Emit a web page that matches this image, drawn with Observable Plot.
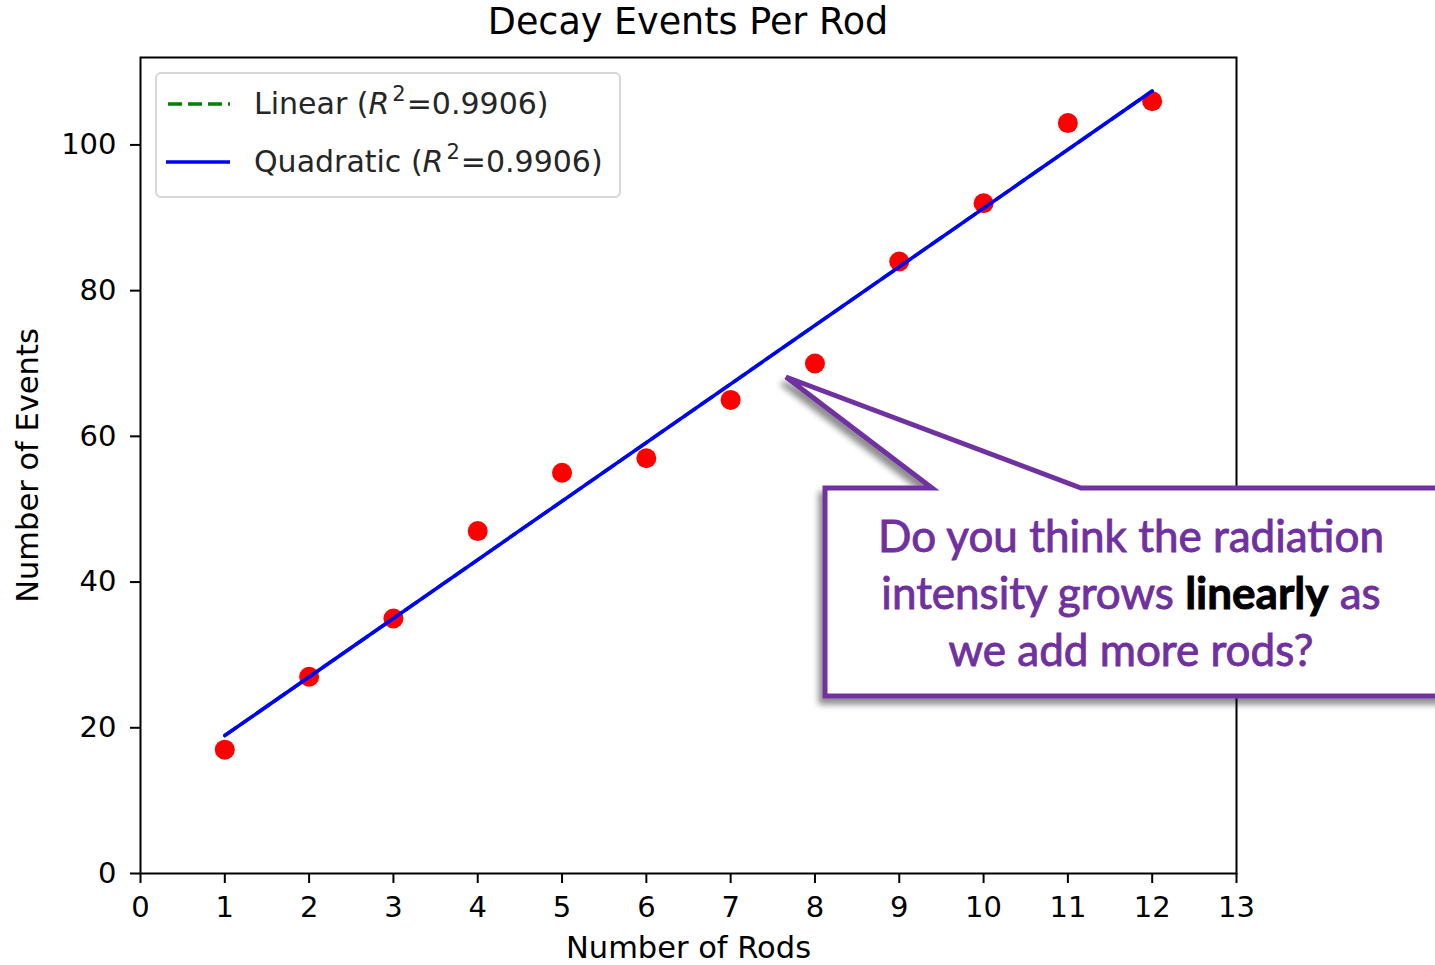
<!DOCTYPE html>
<html>
<head>
<meta charset="utf-8">
<script src="https://cdn.jsdelivr.net/npm/d3@7"></script>
<script src="https://cdn.jsdelivr.net/npm/@observablehq/plot@0.6"></script>
<style>
  html, body { margin: 0; padding: 0; background: #fff; }
  #wrap { position: relative; width: 1435px; height: 965px; overflow: hidden; font-family: "DejaVu Sans", sans-serif; }
  #title { position: absolute; left: 140px; width: 1096px; top: -1px; text-align: center; font-size: 36.5px; line-height: 46px; color: #000; }
  #legend { position: absolute; left: 155px; top: 72px; width: 466px; height: 126px; border: 2px solid #d8d8d8; border-radius: 6px; background: rgba(255,255,255,0.85); box-sizing: border-box; }
  .lrow { position: absolute; left: 0; height: 40px; font-size: 30px; color: #262626; white-space: nowrap; }
  .lrow svg { position: absolute; left: 9px; top: 0; }
  .lrow span { position: absolute; left: 97px; top: 0px; }
  .lrow i { margin-right: 3px; }
  .lrow sup { font-size: 21px; vertical-align: 0; position: relative; top: -13px; margin-right: 1px; }
  #callout { position: absolute; left: 0; top: 0; }
</style>
</head>
<body>
<div id="wrap">
  <div id="chart"></div>
  <div id="title">Decay Events Per Rod</div>
  <div id="legend">
    <div class="lrow" style="top: 12px;">
      <svg width="70" height="40"><line x1="2" x2="64" y1="18" y2="18" stroke="green" stroke-width="3.5" stroke-dasharray="14,6"></line></svg>
      <span>Linear (<i>R</i><sup>2</sup>=0.9906)</span>
    </div>
    <div class="lrow" style="top: 70px;">
      <svg width="70" height="40"><line x1="0" x2="64" y1="18" y2="18" stroke="blue" stroke-width="3.5"></line></svg>
      <span>Quadratic (<i>R</i><sup>2</sup>=0.9906)</span>
    </div>
  </div>
  <svg id="callout" width="1435" height="965"></svg>
</div>
<script>
// Data
const rods = [1, 2, 3, 4, 5, 6, 7, 8, 9, 10, 11, 12];
const events = [17, 27, 35, 47, 55, 57, 65, 70, 84, 92, 103, 106];
const xTicks = [0, 1, 2, 3, 4, 5, 6, 7, 8, 9, 10, 11, 12, 13];
const yTicks = [0, 20, 40, 60, 80, 100];

const data = rods.map((r, i) => ({rods: r, events: events[i]}));

const plot = Plot.plot({
  width: 1435,
  height: 965,
  marginLeft: 140,
  marginRight: 199,
  marginTop: 57,
  marginBottom: 92,
  style: {fontSize: "29px", fontFamily: "DejaVu Sans, sans-serif", color: "#000", background: "transparent"},
  x: {domain: [0, 13]},
  y: {domain: [0, 112]},
  marks: [
    Plot.axisX({ticks: xTicks, tickSize: 10, tickPadding: 13, strokeWidth: 2, label: null}),
    Plot.axisX({ticks: [], tickSize: 0, label: "Number of Rods", labelAnchor: "center", labelArrow: "none", labelOffset: 84, fontSize: 30.5}),
    Plot.axisY({ticks: yTicks, tickSize: 10, tickPadding: 14, strokeWidth: 2, label: null}),
    Plot.axisY({ticks: [], tickSize: 0, label: "Number of Events", labelAnchor: "center", labelArrow: "none", labelOffset: 124, fontSize: 30.5}),
    Plot.dot(data, {x: "rods", y: "events", r: 10, fill: "red", stroke: "none"}),
    Plot.linearRegressionY(data, {x: "rods", y: "events", ci: 0, stroke: "green", strokeWidth: 3.5, strokeDasharray: "14,6"}),
    Plot.linearRegressionY(data, {x: "rods", y: "events", ci: 0, stroke: "blue", strokeWidth: 3.5}),
    Plot.frame({stroke: "#000", strokeWidth: 2})
  ]
});
document.getElementById("chart").appendChild(plot);

// Callout annotation
const co = document.getElementById("callout");
co.innerHTML = `
  <defs>
    <filter id="sh" x="-10%" y="-10%" width="120%" height="130%">
      <feGaussianBlur in="SourceAlpha" stdDeviation="3"/>
      <feOffset dx="-4" dy="6" result="b"/>
      <feComponentTransfer><feFuncA type="linear" slope="0.45"/></feComponentTransfer>
      <feMerge><feMergeNode/><feMergeNode in="SourceGraphic"/></feMerge>
    </filter>
  </defs>
  <path d="M825,488 L932,488 L786,377 L1081,488 L1450,488 L1450,696 L825,696 Z"
        fill="#fff" stroke="#7030A0" stroke-width="5" stroke-linejoin="miter" filter="url(#sh)"/>
  <g font-family="Lato, 'Open Sans', sans-serif" font-size="44" fill="#7030A0" stroke="#7030A0" stroke-width="0.9" text-anchor="middle">
    <text x="1131" y="552">Do you think the radiation</text>
    <text x="1131" y="609">intensity grows <tspan fill="#000" stroke="#000" font-weight="bold">linearly</tspan> as</text>
    <text x="1131" y="666">we add more rods?</text>
  </g>
`;
</script>
</body>
</html>
